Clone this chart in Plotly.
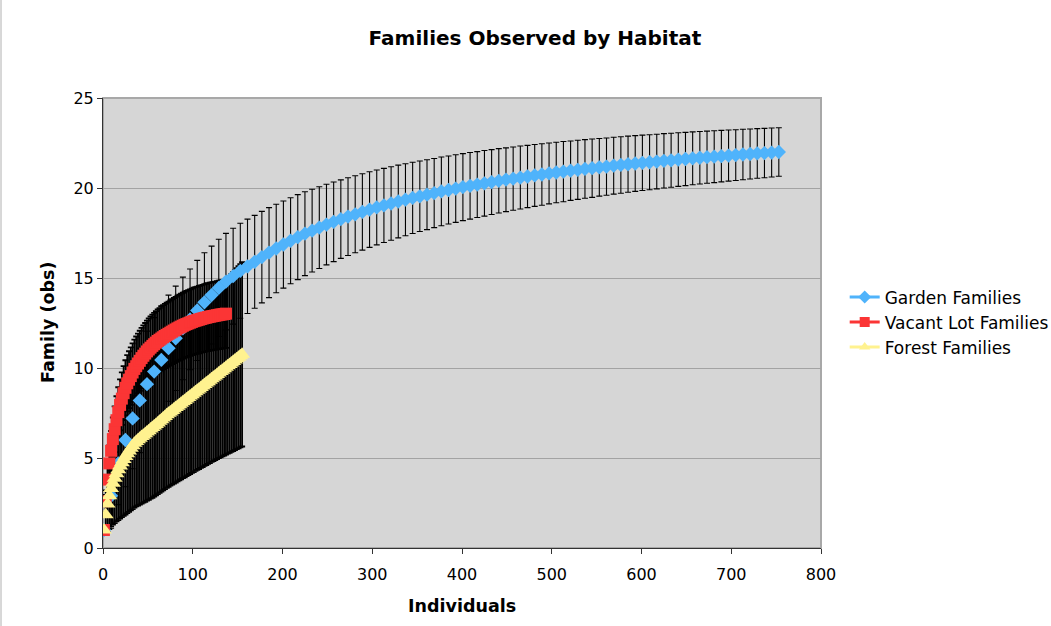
import plotly.graph_objects as go

# Rarefaction curves: families observed vs. number of individuals sampled

garden_n = [
    1, 9, 17, 25, 33, 41, 49, 57, 65, 73,
    81, 89, 97, 105, 113, 121, 129, 137, 145, 153,
    161, 169, 177, 185, 193, 201, 209, 217, 225, 233,
    241, 249, 257, 265, 273, 281, 289, 297, 305, 313,
    321, 329, 337, 345, 353, 361, 369, 377, 385, 393,
    401, 409, 417, 425, 433, 441, 449, 457, 465, 473,
    481, 489, 497, 505, 513, 521, 529, 537, 545, 553,
    561, 569, 577, 585, 593, 601, 609, 617, 625, 633,
    641, 649, 657, 665, 673, 681, 689, 697, 705, 713,
    721, 729, 737, 745, 753,
]
garden_obs = [
    1.0, 2.9, 4.7, 6.0, 7.2, 8.2, 9.1, 9.8, 10.45, 11.1,
    11.65, 12.2, 12.7, 13.2, 13.65, 14.05, 14.45, 14.8, 15.1, 15.4,
    15.65, 15.9, 16.16, 16.41, 16.64, 16.86, 17.07, 17.27, 17.46, 17.63,
    17.8, 17.97, 18.12, 18.27, 18.41, 18.54, 18.67, 18.8, 18.92, 19.03,
    19.14, 19.25, 19.35, 19.45, 19.54, 19.63, 19.72, 19.81, 19.89, 19.97,
    20.05, 20.12, 20.19, 20.26, 20.33, 20.4, 20.46, 20.52, 20.58, 20.64,
    20.7, 20.75, 20.81, 20.86, 20.91, 20.96, 21.01, 21.06, 21.1, 21.15,
    21.19, 21.24, 21.28, 21.32, 21.36, 21.4, 21.43, 21.47, 21.51, 21.54,
    21.58, 21.61, 21.65, 21.68, 21.71, 21.74, 21.77, 21.8, 21.83, 21.86,
    21.89, 21.92, 21.94, 21.97, 22.0,
]
garden_err = [
    0.0, 1.8, 2.3, 2.6, 2.8, 2.9, 2.95, 3.0, 3.0, 2.95,
    2.9, 2.85, 2.8, 2.78, 2.75, 2.72, 2.7, 2.68, 2.66, 2.64,
    2.62, 2.58, 2.54, 2.5, 2.46, 2.42, 2.39, 2.36, 2.33, 2.3,
    2.27, 2.24, 2.21, 2.18, 2.16, 2.14, 2.12, 2.1, 2.08, 2.06,
    2.04, 2.02, 2.0, 1.98, 1.96, 1.94, 1.92, 1.91, 1.89, 1.88,
    1.86, 1.85, 1.83, 1.82, 1.8, 1.79, 1.77, 1.76, 1.75, 1.73,
    1.72, 1.71, 1.69, 1.68, 1.67, 1.65, 1.64, 1.63, 1.62, 1.6,
    1.59, 1.58, 1.57, 1.56, 1.55, 1.54, 1.53, 1.52, 1.51, 1.5,
    1.49, 1.48, 1.47, 1.46, 1.45, 1.44, 1.43, 1.42, 1.41, 1.4,
    1.39, 1.38, 1.37, 1.36, 1.35,
]

vacant_n = [
    1, 3, 5, 7, 9, 11, 13, 15, 17, 19,
    21, 23, 25, 27, 29, 31, 33, 35, 37, 39,
    41, 43, 45, 47, 49, 51, 53, 55, 57, 59,
    61, 63, 65, 67, 69, 71, 73, 75, 77, 79,
    81, 83, 85, 87, 89, 91, 93, 95, 97, 99,
    101, 103, 105, 107, 109, 111, 113, 115, 117, 119,
    121, 123, 125, 127, 129, 131, 133, 135, 137,
]
vacant_obs = [
    1.0, 2.6, 3.8, 4.7, 5.4, 6.05, 6.6, 7.1, 7.55, 7.95,
    8.3, 8.6, 8.9, 9.15, 9.35, 9.55, 9.75, 9.95, 10.1, 10.25,
    10.4, 10.55, 10.68, 10.8, 10.92, 11.03, 11.13, 11.23, 11.32, 11.41,
    11.5, 11.57, 11.64, 11.71, 11.78, 11.84, 11.9, 11.96, 12.02, 12.08,
    12.14, 12.2, 12.25, 12.3, 12.35, 12.4, 12.44, 12.48, 12.52, 12.56,
    12.6, 12.63, 12.66, 12.69, 12.72, 12.75, 12.78, 12.8, 12.83, 12.85,
    12.87, 12.89, 12.91, 12.93, 12.95, 12.97, 12.98, 13.0, 13.02,
]
vacant_err = [
    0.0, 0.6, 0.85, 1.0, 1.1, 1.2, 1.27, 1.33, 1.38, 1.42,
    1.46, 1.5, 1.53, 1.56, 1.58, 1.6, 1.62, 1.63, 1.65, 1.66,
    1.67, 1.68, 1.69, 1.7, 1.71, 1.72, 1.73, 1.74, 1.74, 1.75,
    1.76, 1.76, 1.77, 1.78, 1.78, 1.79, 1.79, 1.8, 1.8, 1.81,
    1.81, 1.82, 1.82, 1.83, 1.83, 1.84, 1.84, 1.85, 1.85, 1.85,
    1.86, 1.86, 1.86, 1.87, 1.87, 1.87, 1.88, 1.88, 1.88, 1.89,
    1.89, 1.89, 1.89, 1.9, 1.9, 1.9, 1.9, 1.9, 1.9,
]

forest_n = [
    1, 3, 5, 7, 9, 11, 13, 15, 17, 19,
    21, 23, 25, 27, 29, 31, 33, 35, 37, 39,
    41, 43, 45, 47, 49, 51, 53, 55, 57, 59,
    61, 63, 65, 67, 69, 71, 73, 75, 77, 79,
    81, 83, 85, 87, 89, 91, 93, 95, 97, 99,
    101, 103, 105, 107, 109, 111, 113, 115, 117, 119,
    121, 123, 125, 127, 129, 131, 133, 135, 137, 139,
    141, 143, 145, 147, 149, 151, 153, 155,
]
forest_obs = [
    1.0, 1.85, 2.45, 2.9, 3.3, 3.6, 3.88, 4.13, 4.35, 4.55,
    4.74, 4.92, 5.08, 5.24, 5.39, 5.54, 5.68, 5.82, 5.92, 6.01,
    6.1, 6.19, 6.27, 6.35, 6.44, 6.52, 6.61, 6.69, 6.78, 6.86,
    6.95, 7.04, 7.13, 7.22, 7.31, 7.4, 7.48, 7.56, 7.64, 7.72,
    7.8, 7.88, 7.96, 8.04, 8.12, 8.2, 8.28, 8.36, 8.44, 8.52,
    8.6, 8.68, 8.76, 8.84, 8.92, 9.0, 9.08, 9.16, 9.24, 9.32,
    9.4, 9.48, 9.56, 9.64, 9.72, 9.8, 9.88, 9.96, 10.04, 10.12,
    10.2, 10.28, 10.36, 10.44, 10.52, 10.6, 10.68, 10.76,
]
forest_err = [
    0.0, 1.1, 1.55, 1.85, 2.1, 2.3, 2.5, 2.65, 2.8, 2.92,
    3.03, 3.13, 3.22, 3.3, 3.38, 3.45, 3.52, 3.57, 3.61, 3.65,
    3.69, 3.72, 3.75, 3.78, 3.81, 3.84, 3.87, 3.9, 3.92, 3.94,
    3.96, 3.98, 4.0, 4.02, 4.04, 4.06, 4.08, 4.1, 4.12, 4.14,
    4.16, 4.18, 4.2, 4.22, 4.24, 4.27, 4.29, 4.31, 4.33, 4.35,
    4.38, 4.4, 4.42, 4.45, 4.47, 4.5, 4.52, 4.55, 4.57, 4.6,
    4.62, 4.65, 4.68, 4.7, 4.73, 4.76, 4.79, 4.82, 4.85, 4.88,
    4.91, 4.94, 4.97, 5.0, 5.03, 5.06, 5.09, 5.12,
]

x_ticks = [0, 100, 200, 300, 400, 500, 600, 700, 800]
y_ticks = [0, 5, 10, 15, 20, 25]

FONT = "DejaVu Sans"
# name, x, y, error, colour, symbol, marker size, whisker thickness
series = [
    ("Garden Families", garden_n, garden_obs, garden_err, "#4fb3fb", "diamond", 11, 1.1),
    ("Vacant Lot Families", vacant_n, vacant_obs, vacant_err, "#fb3535", "square", 12, 1.8),
    ("Forest Families", forest_n, forest_obs, forest_err, "#fff28f", "triangle-up", 14, 1.8),
]

fig = go.Figure()

# error bars first, so that every marker sits on top of the black whiskers
for name, xs, ys, es, color, sym, size, thick in series:
    fig.add_trace(go.Scatter(
        x=xs, y=ys, mode="markers",
        marker=dict(size=2, opacity=0),
        error_y=dict(type="data", array=es, visible=True,
                     color="black", thickness=thick, width=3),
        showlegend=False, hoverinfo="skip",
    ))

for name, xs, ys, es, color, sym, size, thick in series:
    fig.add_trace(go.Scatter(
        x=xs, y=ys, mode="markers", name=name,
        marker=dict(symbol=sym, size=size, color=color, line=dict(width=0)),
        showlegend=False,
    ))

# legend keys drawn as line + marker
for name, xs, ys, es, color, sym, size, thick in series:
    fig.add_trace(go.Scatter(
        x=[None], y=[None], mode="lines+markers", name=name,
        line=dict(color=color, width=3),
        marker=dict(symbol=sym, size=10, color=color),
    ))

fig.update_layout(
    width=1051, height=626, autosize=False,
    margin=dict(l=103, r=230, t=98, b=78, autoexpand=False),
    paper_bgcolor="white", plot_bgcolor="#d6d6d6",
    font=dict(family=FONT, size=16, color="black"),
    title=dict(text="<b>Families Observed by Habitat</b>",
               x=0.509, xref="container", xanchor="center",
               y=1 - 38 / 626, yref="container", yanchor="middle",
               font=dict(family=FONT, size=20, color="black")),
    showlegend=True,
    legend=dict(x=1.033, xanchor="left", y=0.597, yanchor="top",
                bgcolor="rgba(0,0,0,0)", font=dict(family=FONT, size=17),
                tracegroupgap=0),
    xaxis=dict(range=[0, 800], tickvals=x_ticks, ticktext=[str(v) for v in x_ticks],
               showgrid=False, zeroline=False,
               showline=True, linecolor="#333333", linewidth=1,
               ticks="outside", ticklen=5, tickcolor="#333333",
               ticklabelstandoff=7,
               tickfont=dict(family=FONT, size=16)),
    yaxis=dict(range=[0, 25], tickvals=y_ticks, ticktext=[str(v) for v in y_ticks],
               showgrid=True, gridcolor="#a3a3a3", gridwidth=1, zeroline=False,
               showline=True, linecolor="#333333", linewidth=1,
               ticks="outside", ticklen=5, tickcolor="#333333",
               tickfont=dict(family=FONT, size=16)),
    annotations=[
        dict(text="<b>Individuals</b>", xref="paper", yref="paper",
             x=0.5, y=(548 - 606) / 450, xanchor="center", yanchor="middle",
             showarrow=False, font=dict(family=FONT, size=17.5)),
        dict(text="<b>Family (obs)</b>", xref="paper", yref="paper",
             x=(48 - 103) / 718, y=0.5, xanchor="center", yanchor="middle",
             textangle=-90, showarrow=False, font=dict(family=FONT, size=17.5)),
    ],
    shapes=[
        dict(type="rect", xref="paper", yref="paper", x0=0, x1=1, y0=0, y1=1,
             line=dict(color="#a8a8a8", width=2), layer="below"),
        dict(type="line", xref="paper", yref="paper",
             x0=-102 / 718, x1=-102 / 718, y0=-78 / 450, y1=548 / 450,
             line=dict(color="#b0b0b0", width=1)),
    ],
)

fig.write_html("out.html")
